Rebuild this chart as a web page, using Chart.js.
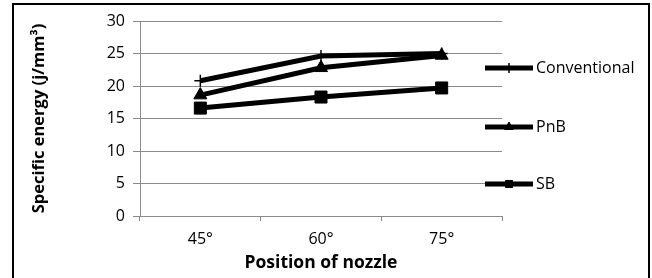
<!DOCTYPE html>
<html>
<head>
<meta charset="utf-8">
<script src="https://cdn.jsdelivr.net/npm/chart.js@4/dist/chart.umd.min.js"></script>
<style>
    body { margin: 0; background: #fff; }
    #wrap { position: relative; width: 652px; height: 278px; overflow: hidden; }
    #frame { position: absolute; left: 12px; top: 3px; width: 634px; height: 290px; border: 2px solid #000; }
    canvas { position: absolute; left: 0; top: 0; }
</style>
</head>
<body>
<div id="wrap">
    <div id="frame"></div>
    <canvas id="chartContainer" width="652" height="278"></canvas>
</div>
<script>
const positions = ["45°", "60°", "75°"];
const conventional = [20.8, 24.6, 25.0];
const pnb = [18.6, 22.8, 24.7];
const sb = [16.6, 18.3, 19.7];
const yTicks = [0, 5, 10, 15, 20, 25, 30];

const fontFamily = "'Open Sans', sans-serif";
const gridGray = "#8a8a8a";

// legend drawn by hand: thick line with a small marker, spaced like the original
const legendRows = [68, 127, 184];
const legendRadius = [5, 5, 5];
const sideLegend = {
    id: "sideLegend",
    afterDraw(chart) {
        const ctx = chart.ctx;
        chart.data.datasets.forEach((ds, i) => {
            const y = legendRows[i];
            ctx.save();
            ctx.strokeStyle = "#000";
            ctx.fillStyle = "#000";
            ctx.lineWidth = 5;
            ctx.beginPath();
            ctx.moveTo(485, y);
            ctx.lineTo(533, y);
            ctx.stroke();
            ctx.lineWidth = ds.pointBorderWidth;
            Chart.helpers.drawPoint(ctx, {
                pointStyle: ds.pointStyle,
                radius: legendRadius[i],
                borderWidth: ds.pointBorderWidth,
                rotation: 0,
            }, 509, y);
            ctx.font = "16px " + fontFamily;
            ctx.textBaseline = "middle";
            ctx.fillText(ds.label, 536, y);
            ctx.restore();
        });
    },
};

function series(label, data, style, radius, bw) {
    return {
        label: label,
        data: data,
        borderColor: "#000",
        backgroundColor: "#000",
        borderWidth: 5,
        pointStyle: style,
        pointRadius: radius,
        pointBorderWidth: bw,
        pointBackgroundColor: "#000",
        pointBorderColor: "#000",
        tension: 0,
    };
}

const ctx = document.getElementById("chartContainer");
new Chart(ctx, {
    type: "line",
    data: {
        labels: positions,
        datasets: [
            series("Conventional", conventional, "cross", 6, 1.5),
            series("PnB", pnb, "triangle", 7.5, 1),
            series("SB", sb, "rect", 8.5, 1),
        ],
    },
    options: {
        responsive: false,
        animation: false,
        layout: { padding: { top: 21, right: 150, left: 0, bottom: 0 } },
        plugins: {
            legend: { display: false },
            tooltip: { enabled: false },
        },
        scales: {
            x: {
                offset: true,
                afterFit: (scale) => { scale.height = 62; },
                grid: {
                    offset: true,
                    drawOnChartArea: false,
                    drawTicks: true,
                    tickLength: 5,
                    color: gridGray,
                },
                border: { color: gridGray, width: 1 },
                ticks: {
                    color: "#000",
                    padding: 9,
                    font: { family: fontFamily, size: 16 },
                },
                title: {
                    display: true,
                    text: "Position of nozzle",
                    color: "#000",
                    padding: { top: 0, bottom: 4 },
                    font: { family: fontFamily, size: 17.5, weight: "bold" },
                },
            },
            y: {
                min: 0,
                max: 30,
                afterFit: (scale) => { scale.width = 140; },
                afterBuildTicks: (scale) => {
                    scale.ticks = yTicks.map((v) => ({ value: v }));
                },
                grid: {
                    color: gridGray,
                    tickLength: 7,
                },
                border: { color: gridGray, width: 1 },
                ticks: {
                    color: "#000",
                    padding: 8,
                    font: { family: fontFamily, size: 16 },
                },
                title: {
                    display: true,
                    text: "Specific energy (j/mm³)",
                    color: "#000",
                    padding: { top: 29, bottom: 0 },
                    font: { family: fontFamily, size: 16.5, weight: "bold" },
                },
            },
        },
    },
    plugins: [sideLegend],
});
</script>
</body>
</html>
